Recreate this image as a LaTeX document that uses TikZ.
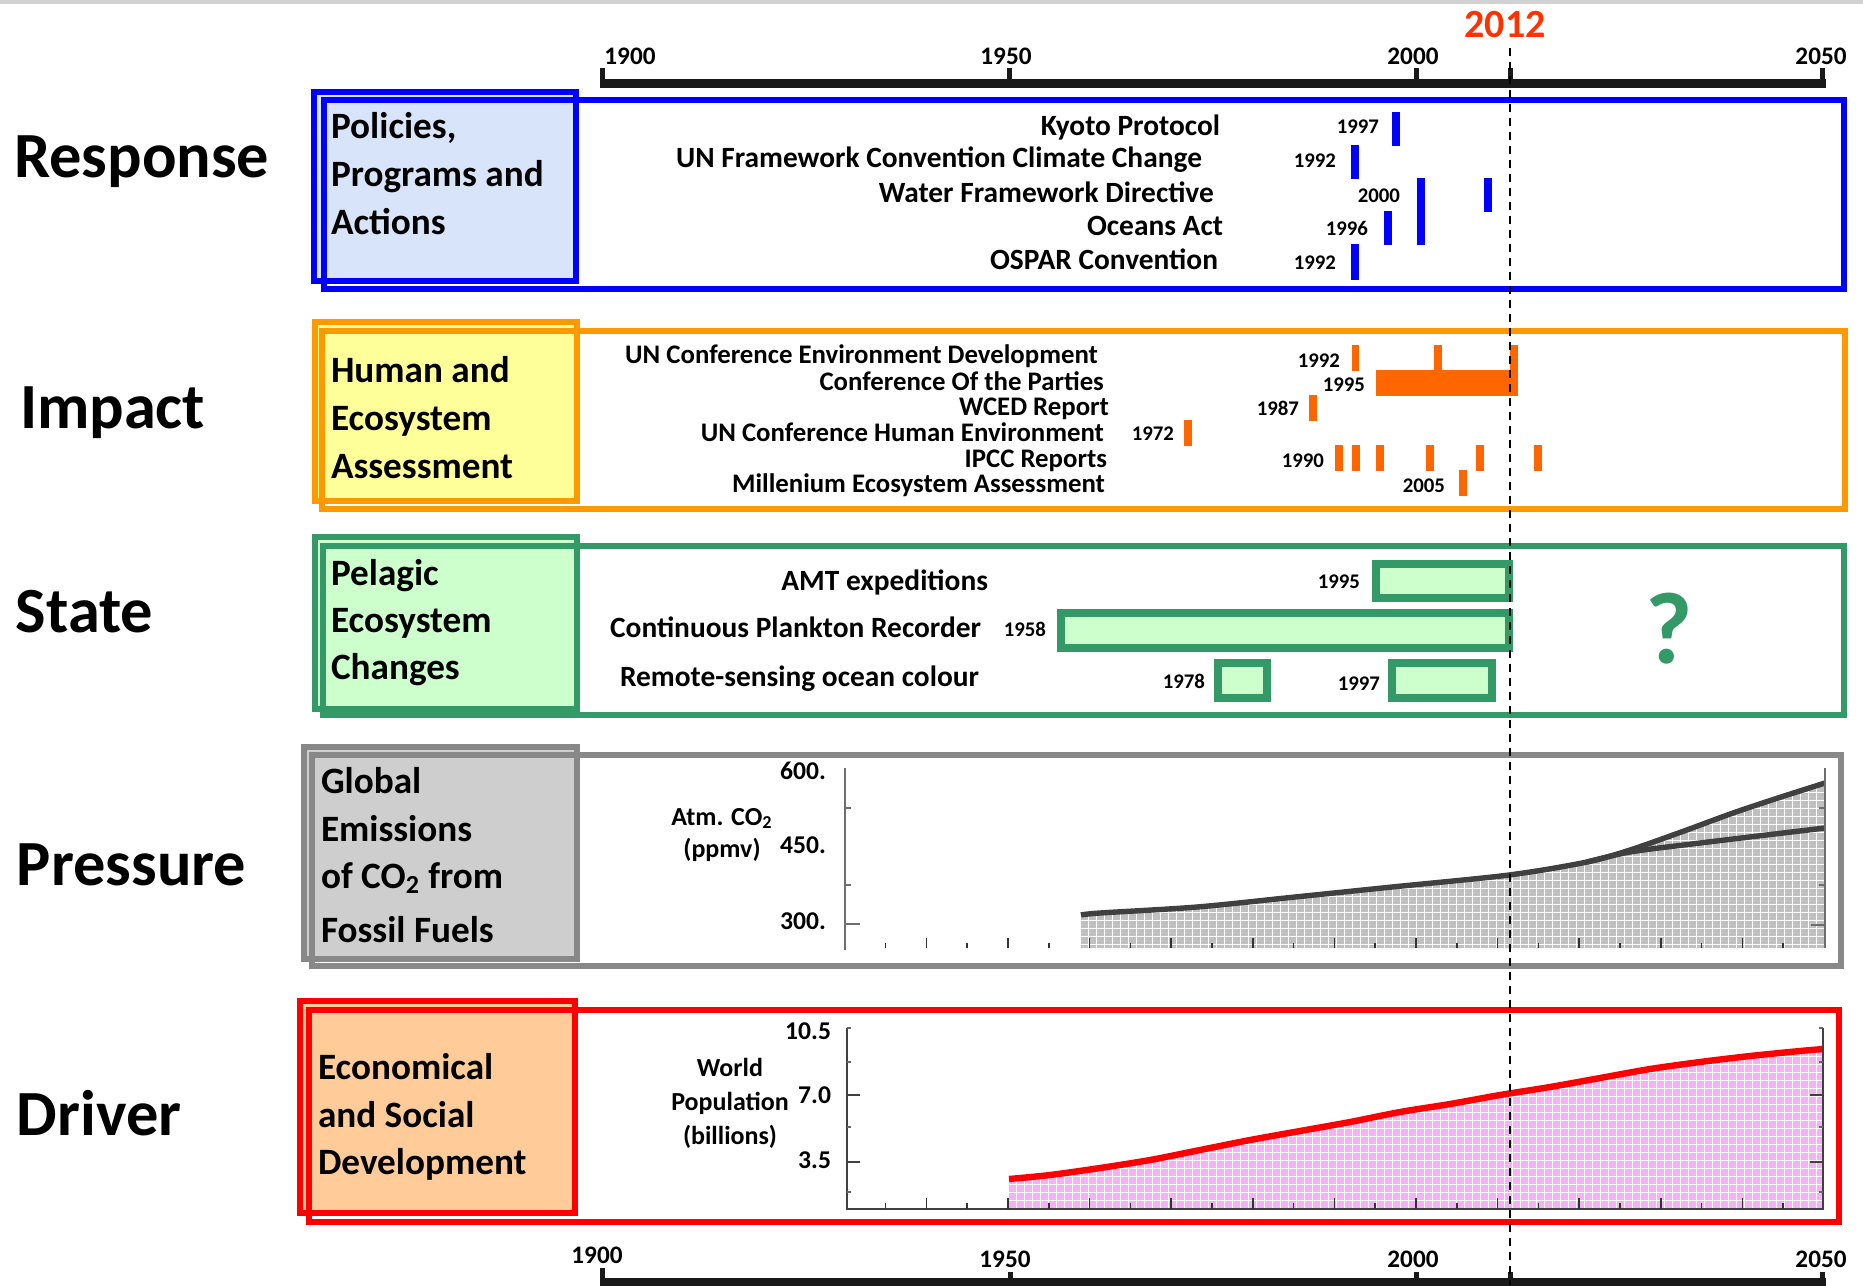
\documentclass[tikz,border=0pt]{standalone}
\usepackage{fontspec}
\setmainfont{Carlito}
\definecolor{rblue}{RGB}{0,0,255}
\definecolor{rbluefill}{RGB}{216,228,250}
\definecolor{iorange}{RGB}{255,153,0}
\definecolor{iyellow}{RGB}{255,255,153}
\definecolor{ibar}{RGB}{255,102,0}
\definecolor{sgreen}{RGB}{51,153,102}
\definecolor{sfill}{RGB}{204,255,204}
\definecolor{pgrey}{RGB}{136,136,136}
\definecolor{pfill}{RGB}{206,206,206}
\definecolor{dred}{RGB}{255,0,0}
\definecolor{dfill}{RGB}{255,204,153}
\definecolor{yrred}{RGB}{255,51,0}
\definecolor{co2fill}{RGB}{192,192,192}
\definecolor{co2line}{RGB}{64,64,64}
\definecolor{popfill}{RGB}{246,176,246}
\definecolor{axgrey}{RGB}{110,110,110}
\begin{document}
\begin{tikzpicture}[x=0.5pt,y=-0.5pt,
  every node/.style={inner sep=0pt,outer sep=0pt},
  sectitle/.style={font=\fontsize{32.2}{38}\selectfont\bfseries,anchor=base west},
  boxtext/.style={font=\fontsize{18.6}{22}\selectfont\bfseries,anchor=base west},
  resitem/.style={font=\fontsize{14.7}{17}\selectfont\bfseries,anchor=base east},
  impitem/.style={font=\fontsize{13.4}{16}\selectfont\bfseries,anchor=base east},
  yearlab/.style={font=\fontsize{10.4}{12}\selectfont\bfseries,anchor=base east},
  axislab/.style={font=\fontsize{12.6}{15}\selectfont\bfseries,anchor=base},
  chartlab/.style={font=\fontsize{13}{15}\selectfont\bfseries,anchor=base},
  ticklab/.style={font=\fontsize{12.8}{15}\selectfont\bfseries,anchor=base east},
  labelbox/.style={line width=3pt},
  widebox/.style={line width=2.7pt},
  sbar/.style={draw=sgreen,fill=sfill,line width=4pt},
  axline/.style={draw=axgrey,line width=0.8pt},
  gridw/.style={draw=white,line width=0.5pt},
]
\useasboundingbox (0,0) rectangle (1863,1285);
\fill[gray!35] (0,0) rectangle (1863,4);

% ---------------- top and bottom time axes
\draw[line width=4.5pt,black!90] (600,83) -- (1826,83);
\foreach \tx in {602,1009,1416,1510,1822}
  \draw[line width=2.5pt,black!90] (\tx,68) -- (\tx,83);
\draw[line width=4.5pt,black!90] (600,1282) -- (1826,1282);
\draw[line width=2.5pt,black!90] (602,1268) -- (602,1282);
\foreach \tx in {1010,1416,1510,1822}
  \draw[line width=2.5pt,black!90] (\tx,1272) -- (\tx,1282);

\node[axislab] (t1900) at (630,64) {1900};
\node[axislab] (t1950) at (1006,64) {1950};
\node[axislab] (t2000) at (1413,64) {2000};
\node[axislab] (t2050) at (1821,64) {2050};
\node[axislab,font=\fontsize{20}{24}\selectfont\bfseries,text=yrred] (t2012) at (1505,37) {2012};
\node[axislab] (b1900) at (597,1263) {1900};
\node[axislab] (b1950) at (1005,1267) {1950};
\node[axislab] (b2000) at (1413,1267) {2000};
\node[axislab] (b2050) at (1821,1267) {2050};

% ---------------- section titles
\node[sectitle] (response) at (14,177) {Response};
\node[sectitle] (impact) at (20,428) {Impact};
\node[sectitle] (state) at (16,632) {State};
\node[sectitle] (pressure) at (17,885) {Pressure};
\node[sectitle] (driver) at (17,1135) {Driver};

% ---------------- Response
\filldraw[labelbox,draw=rblue,fill=rbluefill] (314,92) rectangle (576,281);
\draw[widebox,rblue] (324,100) rectangle (1844,289);
\node[boxtext] (rl1) at (331,138) {Policies,};
\node[boxtext] (rl2) at (331,186) {Programs and};
\node[boxtext] (rl3) at (331,234) {Actions};
\node[resitem] (kyoto) at (1220,135) {Kyoto Protocol};
\node[resitem] (unfccc) at (1202,167) {UN Framework Convention Climate Change};
\node[resitem] (wfd) at (1214,202) {Water Framework Directive};
\node[resitem] (oceans) at (1223,235) {Oceans Act};
\node[resitem] (ospar) at (1218,269) {OSPAR Convention};
\node[yearlab] (y1997a) at (1379,133) {1997};
\node[yearlab] (y1992a) at (1336,167) {1992};
\node[yearlab] (y2000a) at (1400,202) {2000};
\node[yearlab] (y1996a) at (1368,235) {1996};
\node[yearlab] (y1992b) at (1336,269) {1992};
\fill[rblue] (1392,112) rectangle (1400,146);
\fill[rblue] (1351,145) rectangle (1359,179);
\fill[rblue] (1417,178) rectangle (1425,245);
\fill[rblue] (1484,178) rectangle (1492,212);
\fill[rblue] (1384,211) rectangle (1392,245);
\fill[rblue] (1351,244) rectangle (1359,280);

% ---------------- Impact
\filldraw[labelbox,draw=iorange,fill=iyellow] (315,322) rectangle (577,501);
\draw[widebox,iorange] (322,331) rectangle (1845,509);
\node[boxtext] (il1) at (331,382) {Human and};
\node[boxtext] (il2) at (331,430) {Ecosystem};
\node[boxtext] (il3) at (331,478) {Assessment};
\node[impitem] (unced) at (1098,363) {UN Conference Environment Development};
\node[impitem] (cop) at (1104,390) {Conference Of the Parties};
\node[impitem] (wced) at (1109,415) {WCED Report};
\node[impitem] (unche) at (1104,441) {UN Conference Human Environment};
\node[impitem] (ipcc) at (1107,467) {IPCC Reports};
\node[impitem] (mea) at (1105,492) {Millenium Ecosystem Assessment};
\node[yearlab] (y1992c) at (1340,367) {1992};
\node[yearlab] (y1995c) at (1365,391) {1995};
\node[yearlab] (y1987c) at (1299,415) {1987};
\node[yearlab] (y1972c) at (1174,440) {1972};
\node[yearlab] (y1990c) at (1324,467) {1990};
\node[yearlab] (y2005c) at (1445,492) {2005};
\fill[ibar] (1352,345) rectangle (1359,371);
\fill[ibar] (1434,345) rectangle (1442,371);
\fill[ibar] (1510,345) rectangle (1518,396);
\fill[ibar] (1376,370) rectangle (1512,396);
\fill[ibar] (1309,395) rectangle (1317,421);
\fill[ibar] (1184,420) rectangle (1192,446);
\foreach \bx in {1335,1352,1376,1426,1476,1534}
  \fill[ibar] (\bx,445) rectangle ++(8,26);
\fill[ibar] (1459,470) rectangle (1467,496);

% ---------------- State
\filldraw[labelbox,draw=sgreen,fill=sfill] (315,537) rectangle (577,709);
\draw[widebox,sgreen] (323,546) rectangle (1844,715);
\node[boxtext] (sl1) at (331,585) {Pelagic};
\node[boxtext] (sl2) at (331,632) {Ecosystem};
\node[boxtext] (sl3) at (331,679) {Changes};
\node[resitem] (amt) at (988,590) {AMT expeditions};
\node[resitem] (cpr) at (981,637) {Continuous Plankton Recorder};
\node[resitem] (rs) at (979,686) {Remote-sensing ocean colour};
\node[yearlab] (y1995d) at (1360,588) {1995};
\node[yearlab] (y1958d) at (1046,636) {1958};
\node[yearlab] (y1978d) at (1205,688) {1978};
\node[yearlab] (y1997d) at (1380,690) {1997};
\draw[sbar] (1376,564) rectangle (1509,598);
\draw[sbar] (1061,613) rectangle (1509,648);
\draw[sbar] (1218,663) rectangle (1267,698);
\draw[sbar] (1392,663) rectangle (1492,698);
\node[anchor=base,font=\fontsize{51}{60}\selectfont\bfseries,text=sgreen] (qmark) at (1669,663) {?};

% ---------------- Pressure
\filldraw[labelbox,draw=pgrey,fill=pfill] (304,747) rectangle (577,959);
\draw[widebox,pgrey] (312,755) rectangle (1841,966);
\node[boxtext] (pl1) at (321,793) {Global};
\node[boxtext] (pl2) at (321,841) {Emissions};
\node[boxtext] (pl3) at (321,888) {of CO\textsubscript{2} from};
\node[boxtext] (pl4) at (321,942) {Fossil Fuels};
\node[chartlab] (atm) at (722,825) {Atm. CO\textsubscript{2}};
\node[chartlab] (ppmv) at (722,857) {(ppmv)};
\node[ticklab] (c600) at (826,779) {600.};
\node[ticklab] (c450) at (826,853) {450.};
\node[ticklab] (c300) at (826,929) {300.};
\begin{scope}
  \clip (1081,948) -- plot[smooth] coordinates {(1081,915) (1100,913) (1197,907) (1295,897) (1392,887) (1509,875) (1587,862) (1630,850) (1684,831) (1733,813) (1781,797) (1825,783)} -- (1825,948) -- cycle;
  \fill[co2fill] (1075,770) rectangle (1830,950);
  \draw[gridw] (1075,770) grid[step=4pt] (1830,950);
\end{scope}
\draw[co2line,line width=2.7pt,line join=round] plot[smooth] coordinates {(1081,915) (1100,913) (1197,907) (1295,897) (1392,887) (1509,875) (1587,862) (1630,850) (1684,831) (1733,813) (1781,797) (1825,783)};
\draw[co2line,line width=2.7pt] plot[smooth] coordinates {(1587,862) (1630,852) (1700,843) (1825,828)};
\draw[axline] (845,768) -- (845,950);
\draw[axline] (1825,768) -- (1825,948);
\draw[axline,line width=1.4pt] (845,924) -- (860,924);
\foreach \ty in {808,885} {\draw[axline,line width=1.2pt] (845,\ty) -- (851,\ty);
  \draw[axline,line width=1.2pt] (1825,\ty) -- (1819,\ty);}
\draw[axline,line width=1.4pt] (1825,925) -- (1811,925);
\foreach \k in {0,...,22} {
  \pgfmathsetmacro{\tx}{600+(1935+5*\k-1900)*8.16}
  \pgfmathtruncatemacro{\odd}{mod(\k,2)}
  \ifnum\odd=1 \draw[black!80,line width=0.8pt] (\tx,938) -- (\tx,948);
  \else \draw[black!80,line width=0.8pt] (\tx,943) -- (\tx,948); \fi}

% ---------------- Driver
\filldraw[labelbox,line width=3.4pt,draw=dred,fill=dfill] (300,1001) rectangle (575,1213);
\draw[widebox,dred] (309,1010) rectangle (1839,1222);
\node[boxtext] (dl1) at (318,1079) {Economical};
\node[boxtext] (dl2) at (318,1127) {and Social};
\node[boxtext] (dl3) at (318,1174) {Development};
\node[chartlab] (world) at (730,1076) {World};
\node[chartlab] (popn) at (730,1110) {Population};
\node[chartlab] (bill) at (730,1144) {(billions)};
\node[ticklab] (p105) at (831,1039) {10.5};
\node[ticklab] (p70) at (831,1103) {7.0};
\node[ticklab] (p35) at (831,1168) {3.5};
\begin{scope}
  \clip (1009,1209) -- plot[smooth] coordinates {(1009,1179) (1050,1175) (1100,1168) (1150,1160) (1200,1150) (1250,1140) (1300,1131) (1350,1122) (1400,1112) (1450,1104) (1500,1095) (1550,1087) (1600,1078) (1650,1069) (1700,1062) (1750,1056) (1800,1051) (1823,1049)} -- (1823,1209) -- cycle;
  \fill[popfill] (1000,1040) rectangle (1830,1212);
  \draw[gridw] (1000,1040) grid[step=4pt] (1830,1212);
\end{scope}
\draw[dred,line width=3.2pt] plot[smooth] coordinates {(1009,1179) (1050,1175) (1100,1168) (1150,1160) (1200,1150) (1250,1140) (1300,1131) (1350,1122) (1400,1112) (1450,1104) (1500,1095) (1550,1087) (1600,1078) (1650,1069) (1700,1062) (1750,1056) (1800,1051) (1823,1049)};
\draw[axline,draw=black!75] (847,1028) -- (847,1209) -- (1823,1209) -- (1823,1028);
\foreach \ty in {1095,1162} {\draw[black!75,line width=1.3pt] (847,\ty) -- (860,\ty);
  \draw[black!75,line width=1.3pt] (1823,\ty) -- (1810,\ty);}
\foreach \ty in {1028,1062,1127,1192} {\draw[black!60,line width=0.8pt] (847,\ty) -- (851,\ty);
  \draw[black!60,line width=0.8pt] (1823,\ty) -- (1819,\ty);}
\foreach \k in {0,...,22} {
  \pgfmathsetmacro{\tx}{600+(1935+5*\k-1900)*8.16}
  \pgfmathtruncatemacro{\odd}{mod(\k,2)}
  \ifnum\odd=1 \draw[black!80,line width=0.8pt] (\tx,1198) -- (\tx,1209);
  \else \draw[black!80,line width=0.8pt] (\tx,1203) -- (\tx,1209); \fi}

% ---------------- 2012 marker
\coordinate (d12top) at (1510,48);
\coordinate (d12bot) at (1510,1285);
\draw[black,line width=1.3pt,dash pattern=on 4pt off 3pt] (d12top) -- (d12bot);
\end{tikzpicture}
\end{document}
